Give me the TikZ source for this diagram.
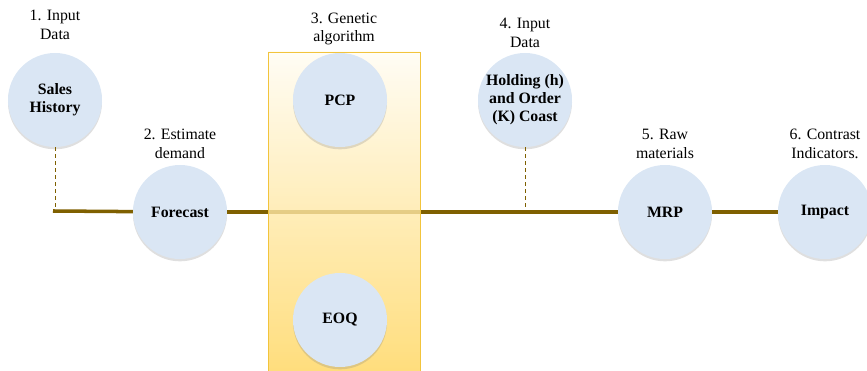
\documentclass[tikz,border=0pt]{standalone}
\usepackage{fontspec}
\setmainfont{Liberation Serif}
\newfontfamily\stagefont{Liberation Serif}
\usetikzlibrary{positioning,shadows}
\definecolor{linebrown}{RGB}{127,96,0}
\definecolor{circblue}{RGB}{218,230,244}
\definecolor{boxgold}{RGB}{242,196,60}
\pgfdeclarelayer{bg}
\pgfsetlayers{bg,main}
\begin{document}
\begin{tikzpicture}[
        x=0.03cm, y=0.03cm,
        every node/.style={font=\stagefont\fontsize{13.5}{16}\selectfont, align=center},
        stage/.style={circle, fill=circblue, minimum size=2.82cm, inner sep=0pt,
          font=\stagefont\fontsize{13.5}{15.5}\selectfont\bfseries,
          drop shadow={shadow xshift=0pt, shadow yshift=-0.7mm, opacity=0.25}},
        lbl/.style={inner sep=1pt},
        mainline/.style={draw=linebrown, line width=3pt},
        link/.style={draw=linebrown, dashed, line width=0.6pt}
    ]
    \useasboundingbox (0,0) rectangle (867,371);
    \clip (0,0) rectangle (867,371);

    % Genetic algorithm box
    \node[rectangle, draw=boxgold, line width=0.6pt, fill opacity=0.8,
      minimum width=4.56cm, minimum height=9.84cm,
      top color={rgb,255:red,255;green,252;blue,242},
      middle color={rgb,255:red,255;green,236;blue,182},
      bottom color={rgb,255:red,255;green,212;blue,88}]
      (ga) at (344,155) {};

    % Stages
    \node[stage] (sales) at (55,271) {Sales\\History};
    \node[stage] (forecast) at (180,159) {Forecast};
    \node[stage] (pcp) at (340,271) {PCP};
    \node[stage] (eoq) at (340,51) {EOQ};
    \node[stage] (costs) at (525,271) {Holding (h)\\and Order\\(K) Coast};
    \node[stage] (mrp) at (665,159) {MRP};
    \node[stage] (impact) at (825,159) {Impact};

    % Step labels
    \node[lbl, above=0.35cm of sales] {1. Input\\Data};
    \node[lbl, above=0.15cm of forecast] {2. Estimate\\demand};
    \node[lbl, above=0.15cm of ga] {3. Genetic\\algorithm};
    \node[lbl, above=0.12cm of costs] {4. Input\\Data};
    \node[lbl, above=0.15cm of mrp] {5. Raw\\materials};
    \node[lbl, above=0.15cm of impact] {6. Contrast\\Indicators.};

    % Time line
    \coordinate (start) at (53,160);
    \begin{pgfonlayer}{bg}
      \draw[mainline] (start) -- (forecast);
      \draw[mainline] (forecast) -- (mrp);
      \draw[mainline] (mrp) -- (impact);
    \end{pgfonlayer}

    % Inputs
    \draw[link] (sales) -- (sales |- start);
    \draw[link] (costs) -- (costs |- start);
\end{tikzpicture}
\end{document}
